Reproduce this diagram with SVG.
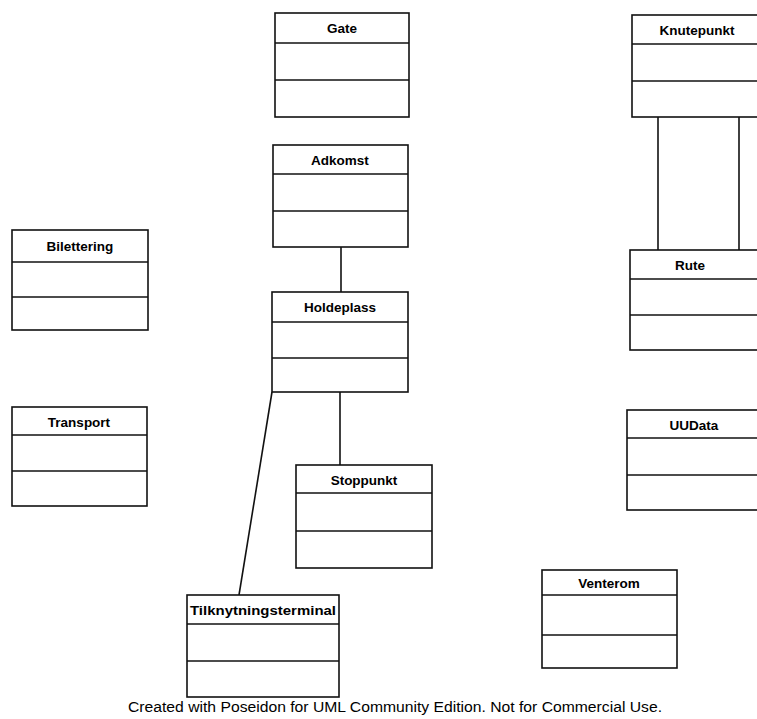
<svg xmlns="http://www.w3.org/2000/svg" width="757" height="719" viewBox="0 0 757 719">
<style>
.box{fill:#fff;stroke:#111;stroke-width:1.6}
.div{stroke:#111;stroke-width:1.6}
.t{font-family:"Liberation Sans",Arial,sans-serif;font-weight:bold;font-size:13.5px;fill:#000;text-anchor:middle}
.c{stroke:#111;stroke-width:1.6;fill:none}
.f{font-family:"Liberation Sans",Arial,sans-serif;font-size:14px;fill:#000;text-anchor:middle}
</style>
<rect width="757" height="719" fill="#fff"/>
<g id="connectors">
<line class="c" x1="341" y1="247" x2="341" y2="292"/>
<line class="c" x1="340" y1="392" x2="340" y2="465"/>
<line class="c" x1="272" y1="392" x2="239" y2="595"/>
<line class="c" x1="658" y1="117" x2="658" y2="250"/>
<line class="c" x1="739" y1="117" x2="739" y2="250"/>
</g>
<g id="Gate">
<rect class="box" x="275" y="13" width="134" height="104"/>
<line class="div" x1="275" y1="43" x2="409" y2="43"/>
<line class="div" x1="275" y1="80" x2="409" y2="80"/>
<text class="t" x="342" y="33">Gate</text>
</g>
<g id="Knutepunkt">
<rect class="box" x="632" y="15" width="134" height="102"/>
<line class="div" x1="632" y1="44" x2="766" y2="44"/>
<line class="div" x1="632" y1="81" x2="766" y2="81"/>
<text class="t" x="697" y="35">Knutepunkt</text>
</g>
<g id="Adkomst">
<rect class="box" x="273" y="145" width="135" height="102"/>
<line class="div" x1="273" y1="174" x2="408" y2="174"/>
<line class="div" x1="273" y1="211" x2="408" y2="211"/>
<text class="t" x="340" y="165">Adkomst</text>
</g>
<g id="Bilettering">
<rect class="box" x="12" y="230" width="136" height="100"/>
<line class="div" x1="12" y1="262" x2="148" y2="262"/>
<line class="div" x1="12" y1="297" x2="148" y2="297"/>
<text class="t" x="80" y="251">Bilettering</text>
</g>
<g id="Rute">
<rect class="box" x="630" y="250" width="134" height="100"/>
<line class="div" x1="630" y1="279" x2="764" y2="279"/>
<line class="div" x1="630" y1="315" x2="764" y2="315"/>
<text class="t" x="690" y="270">Rute</text>
</g>
<g id="Holdeplass">
<rect class="box" x="272" y="292" width="136" height="100"/>
<line class="div" x1="272" y1="322" x2="408" y2="322"/>
<line class="div" x1="272" y1="358" x2="408" y2="358"/>
<text class="t" x="340" y="312">Holdeplass</text>
</g>
<g id="Transport">
<rect class="box" x="12" y="407" width="135" height="99"/>
<line class="div" x1="12" y1="435" x2="147" y2="435"/>
<line class="div" x1="12" y1="471" x2="147" y2="471"/>
<text class="t" x="79" y="427">Transport</text>
</g>
<g id="UUData">
<rect class="box" x="627" y="410" width="134" height="100"/>
<line class="div" x1="627" y1="438" x2="761" y2="438"/>
<line class="div" x1="627" y1="475" x2="761" y2="475"/>
<text class="t" x="694" y="430">UUData</text>
</g>
<g id="Stoppunkt">
<rect class="box" x="296" y="465" width="136" height="103"/>
<line class="div" x1="296" y1="493" x2="432" y2="493"/>
<line class="div" x1="296" y1="531" x2="432" y2="531"/>
<text class="t" x="364" y="485">Stoppunkt</text>
</g>
<g id="Venterom">
<rect class="box" x="542" y="570" width="135" height="98"/>
<line class="div" x1="542" y1="595" x2="677" y2="595"/>
<line class="div" x1="542" y1="635" x2="677" y2="635"/>
<text class="t" x="609" y="588">Venterom</text>
</g>
<g id="Tilknytningsterminal">
<rect class="box" x="187" y="595" width="152" height="102"/>
<line class="div" x1="187" y1="624" x2="339" y2="624"/>
<line class="div" x1="187" y1="661" x2="339" y2="661"/>
<text class="t" x="263" y="615" textLength="146" lengthAdjust="spacingAndGlyphs">Tilknytningsterminal</text>
</g>
<text class="f" x="395" y="712" textLength="534" lengthAdjust="spacingAndGlyphs">Created with Poseidon for UML Community Edition. Not for Commercial Use.</text>
</svg>
